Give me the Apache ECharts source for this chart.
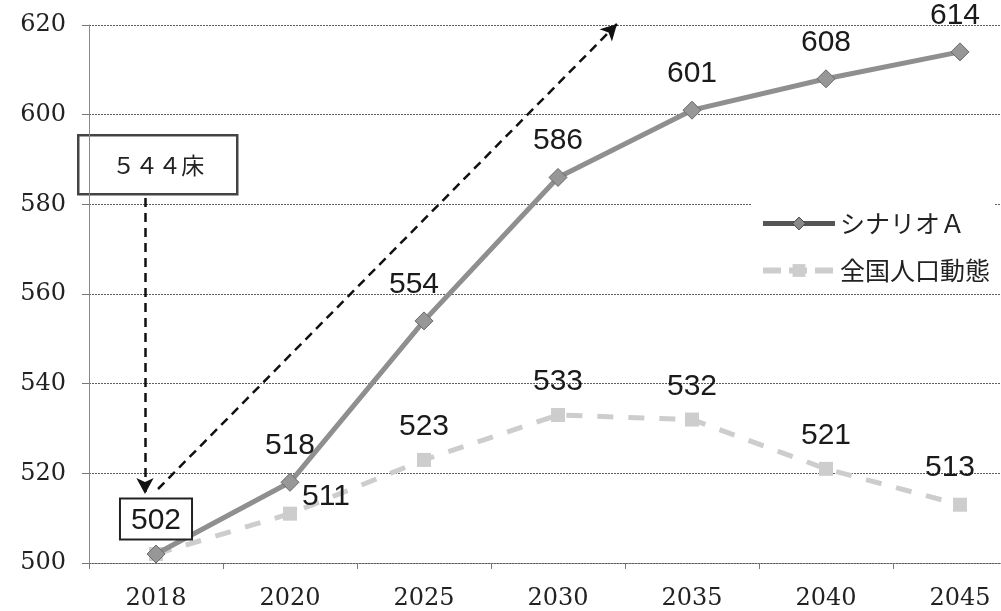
<!DOCTYPE html>
<html>
<head>
<meta charset="utf-8">
<script src="https://cdn.jsdelivr.net/npm/echarts@6/dist/echarts.min.js"></script>
<style>html,body{margin:0;padding:0;background:#fff}#c{width:1001px;height:611px}</style>
</head>
<body>
<div id="c"></div>
<script>
var categories = ['2018', '2020', '2025', '2030', '2035', '2040', '2045'];
var scenarioA = [502, 518, 554, 586, 601, 608, 614];
var national = [502, 511, 523, 533, 532, 521, 513];
var seriesNames = ['シナリオＡ', '全国人口動態'];
var yTicks = { min: 500, max: 620, interval: 20 };
var noteText = '５４４床';

var chart = echarts.init(document.getElementById('c'), null, { renderer: 'canvas' });

var labelFont = { fontFamily: '"Liberation Sans", Arial, sans-serif', fontSize: 30, color: '#1a1a1a' };

var dataA = scenarioA.map(function (v, i) {
  var item = { value: v };
  if (i === 0) {
    item.label = {
      borderColor: '#222', borderWidth: 2, backgroundColor: '#fff',
      padding: [6, 10, 3, 10], distance: 6
    };
  } else if (i === 2) {
    item.label = { offset: [-10, 0] };
  } else if (i === 6) {
    item.label = { offset: [-5, 0] };
  }
  return item;
});

var dataN = national.map(function (v, i) {
  var item = { value: v };
  if (i === 0) {
    item.label = { show: false };
  } else if (i === 1) {
    item.label = { position: 'right', distance: 5, offset: [0, -17] };
  } else if (i === 6) {
    item.label = { offset: [-10, -4] };
  }
  return item;
});

var axisLineStyle = { color: '#5f5f5f', width: 1, type: [2, 1] };
var axisFont = { fontFamily: '"DejaVu Serif", serif', fontSize: 24, color: '#222' };

var option = {
  backgroundColor: '#fff',
  animation: false,
  grid: { left: 89, top: 25, bottom: 48, right: -26, outerBoundsMode: 'none', containLabel: false },
  legend: {
    orient: 'vertical', left: 752, top: 203,
    padding: [8, 4, 8, 8], backgroundColor: '#fff',
    itemWidth: 72, itemHeight: 16, itemGap: 22,
    textStyle: { fontFamily: '"Noto Sans CJK JP", sans-serif', fontSize: 25, color: '#222' },
    data: [
      { name: seriesNames[0], lineStyle: { color: '#555', width: 5, type: 'solid' },
        itemStyle: { color: '#8a8a8a', borderColor: '#444', borderWidth: 1 } },
      { name: seriesNames[1], lineStyle: { color: '#cdcdcd', width: 6, type: [18, 8] },
        itemStyle: { color: '#cdcdcd' } }
    ]
  },
  xAxis: {
    type: 'category', data: categories, boundaryGap: true,
    axisLine: { show: true, lineStyle: axisLineStyle },
    axisTick: { show: true, length: 6, lineStyle: { color: '#777' } },
    axisLabel: Object.assign({ margin: 24 }, axisFont),
    splitLine: { show: false }
  },
  yAxis: {
    type: 'value', min: yTicks.min, max: yTicks.max, interval: yTicks.interval,
    axisLine: { show: true, lineStyle: { color: '#888', width: 1 } },
    axisTick: { show: true, length: 7, lineStyle: { color: '#777' } },
    axisLabel: Object.assign({ margin: 23 }, axisFont),
    splitLine: { show: true, lineStyle: axisLineStyle }
  },
  series: [
    {
      name: seriesNames[1], type: 'line', data: dataN, z: 2,
      symbol: 'rect', symbolSize: 14,
      itemStyle: { color: '#cdcdcd' },
      lineStyle: { color: '#cdcdcd', width: 5, type: [16, 15] },
      label: Object.assign({ show: true, position: 'top', distance: 11 }, labelFont)
    },
    {
      name: seriesNames[0], type: 'line', data: dataA, z: 3,
      symbol: 'diamond', symbolSize: 18,
      itemStyle: { color: '#979797', borderColor: '#6a6a6a', borderWidth: 1 },
      lineStyle: { color: '#8f8f8f', width: 5 },
      label: Object.assign({ show: true, position: 'top', distance: 12 }, labelFont),
      markLine: {
        silent: true,
        symbol: ['none', 'arrow'],
        symbolSize: [13, 16],
        label: { show: false },
        lineStyle: { color: '#111', width: 2.5, type: [9, 6] },
        data: [
          [{ x: 145, y: 198 }, { x: 145, y: 494 }],
          [{ x: 158, y: 489 }, { x: 617, y: 24 }]
        ]
      }
    }
  ],
  graphic: [
    {
      type: 'group', left: 77, top: 134, z: 100,
      children: [
        { type: 'rect', shape: { x: 0, y: 0, width: 159, height: 59 },
          style: { fill: '#fff', stroke: '#444', lineWidth: 2.5 } },
        { type: 'text', x: 80, y: 30,
          style: { text: noteText, fontFamily: '"Noto Sans CJK JP", sans-serif', fontSize: 23,
                   fill: '#222', align: 'center', verticalAlign: 'middle' } }
      ]
    }
  ]
};

chart.setOption(option);
</script>
</body>
</html>
